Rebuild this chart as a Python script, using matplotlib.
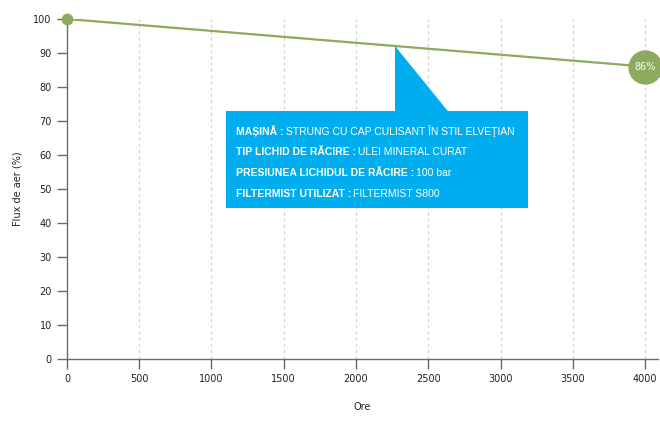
import matplotlib
matplotlib.use('Agg')
import matplotlib.pyplot as plt
from matplotlib.patches import Polygon, Rectangle
from matplotlib.transforms import offset_copy
import numpy as np

# Data
hours = [0, 4000]
airflow = [100, 86]
x_ticks = [0, 500, 1000, 1500, 2000, 2500, 3000, 3500, 4000]
y_ticks = [0, 10, 20, 30, 40, 50, 60, 70, 80, 90, 100]
info_labels = ['MAȘINĂ :', 'TIP LICHID DE RĂCIRE :', 'PRESIUNEA LICHIDUL DE RĂCIRE :', 'FILTERMIST UTILIZAT :']
info_values = ['STRUNG CU CAP CULISANT ÎN STIL ELVEŢIAN', 'ULEI MINERAL CURAT', '100 bar', 'FILTERMIST S800']

green = '#8cab5e'
blue = '#00aeef'
axis_col = '#6b6b6b'

plt.rcParams['font.family'] = ['Liberation Sans', 'DejaVu Sans']

fig = plt.figure(figsize=(6.6, 4.24), dpi=100)
ax = fig.add_axes([0.1015, 0.1533, 0.8955, 0.8019])

ax.set_xlim(0, 4090)
ax.set_ylim(0, 100)

# dashed vertical grid
for t in x_ticks[1:]:
    ax.axvline(t, color='#d0d0d0', lw=0.9, ls=(0, (2.5, 2.5)), zorder=0)

ax.plot(hours, airflow, color=green, lw=1.6, zorder=3)
ax.scatter([hours[0]], [airflow[0]], s=55, color=green, zorder=4, clip_on=False)
ax.scatter([hours[-1]], [airflow[-1]], s=560, color=green, zorder=4, clip_on=False)
ax.text(hours[-1], airflow[-1], f'{airflow[-1]}%', color='white', fontsize=7,
        ha='center', va='center', zorder=5, family='DejaVu Sans')

# callout box with pointer to the line
tip_x = 2270
tip_y = np.interp(tip_x, hours, airflow)
box_x0, box_x1, box_y0, box_y1 = 1100, 3190, 44.4, 72.9
ax.add_patch(Rectangle((box_x0, box_y0), box_x1 - box_x0, box_y1 - box_y0,
                       color=blue, lw=0, zorder=5))
ax.add_patch(Polygon([(tip_x, tip_y), (tip_x, box_y1 - 1), (2660, box_y1 - 1)],
                     closed=True, color=blue, lw=0, zorder=5))

fig.canvas.draw()
renderer = fig.canvas.get_renderer()
line_y = [67.1, 61.0, 54.8, 48.6]
for lab, val, yy in zip(info_labels, info_values, line_y):
    t = ax.text(1170, yy, lab, color='white', fontsize=7.5, fontweight='bold',
                va='center', ha='left', zorder=6)
    w = t.get_window_extent(renderer).width
    tr = offset_copy(ax.transData, fig=fig, x=w + 2, y=0, units='dots')
    ax.text(1170, yy, val, color='white', fontsize=7.5, va='center', ha='left',
            zorder=6, transform=tr)

ax.set_xticks(x_ticks)
ax.set_yticks(y_ticks)
ax.tick_params(colors=axis_col, labelcolor='#222222', labelsize=7, length=7, width=1,
               direction='out', pad=4)
for lbl in ax.get_xticklabels() + ax.get_yticklabels():
    lbl.set_family('DejaVu Sans')
for s in ['top', 'right']:
    ax.spines[s].set_visible(False)
for s in ['left', 'bottom']:
    ax.spines[s].set_color(axis_col)
    ax.spines[s].set_linewidth(1)

ax.set_xlabel('Ore', fontsize=7, color='#222222', labelpad=13, family='DejaVu Sans')
ax.set_ylabel('Flux de aer (%)', fontsize=7, color='#222222', labelpad=8, family='DejaVu Sans')

fig.savefig('out.png', dpi=100)
